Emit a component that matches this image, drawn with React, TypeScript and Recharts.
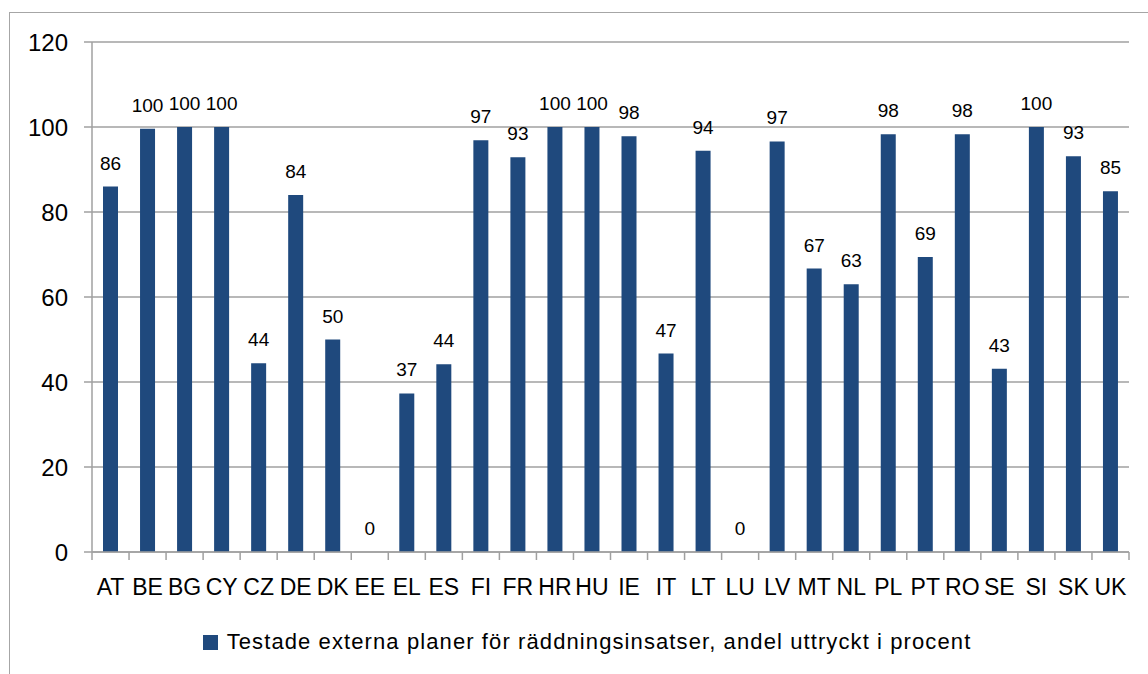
import React from 'react';
import { ComposedChart, Bar, Line, XAxis, YAxis, CartesianGrid, LabelList, Legend } from 'recharts';

const categories = ['AT','BE','BG','CY','CZ','DE','DK','EE','EL','ES','FI','FR','HR','HU','IE','IT','LT','LU','LV','MT','NL','PL','PT','RO','SE','SI','SK','UK'];
const values = [86, 99.6, 100, 100, 44.4, 84, 50, 0, 37.3, 44.2, 96.9, 92.9, 100, 100, 97.8, 46.7, 94.4, 0, 96.6, 66.7, 63, 98.3, 69.4, 98.3, 43.1, 100, 93.1, 84.9];
const yTicks = [0, 20, 40, 60, 80, 100, 120];
const seriesName = 'Testade externa planer för räddningsinsatser, andel uttryckt i procent';

const data = categories.map((c, i) => ({ name: c, value: values[i] }));

const FONT = '"Liberation Sans", Arial, sans-serif';
const GRAY = '#a0a0a0';
const BLUE = '#1F497D';

const XTick = (props: any) => {
  const { x, y, payload, index, visibleTicksCount } = props;
  const half = payload && typeof payload.offset === 'number' && payload.offset > 0 ? payload.offset : 18.5;
  const isLast = index === (visibleTicksCount ?? categories.length) - 1;
  return (
    <g>
      <line x1={x - half} x2={x - half} y1={y} y2={y + 8} stroke={GRAY} strokeWidth={1.5} />
      {isLast && <line x1={x + half} x2={x + half} y1={y} y2={y + 8} stroke={GRAY} strokeWidth={1.5} />}
      <text x={x} y={y + 43} textAnchor="middle" fontSize={23} fontFamily={FONT} fill="#000">
        {payload.value}
      </text>
    </g>
  );
};

const PointLabel = (props: any) => {
  const { x, y, value } = props;
  if (value === undefined || value === null) return null;
  return (
    <text x={Number(x)} y={Number(y) - 17} textAnchor="middle" fontSize={19} fontFamily={FONT} fill="#000">
      {String(Math.round(Number(value)))}
    </text>
  );
};

const LegendContent = () => (
  <div style={{ display: 'flex', alignItems: 'center', justifyContent: 'center', fontFamily: FONT, fontSize: 22, letterSpacing: 1.1, color: '#000' }}>
    <span style={{ display: 'inline-block', width: 15, height: 15, background: BLUE, marginRight: 9 }} />
    <span>{seriesName}</span>
  </div>
);

export default function App() {
  return (
    <div style={{ position: 'absolute', left: 0, top: 0, width: 1148, height: 674, overflow: 'hidden', background: '#fff' }}>
      <div style={{ position: 'absolute', left: 9, top: 12, width: 1160, height: 720, border: '1.5px solid #a6a6a6', boxSizing: 'border-box' }} />
      <div style={{ position: 'absolute', left: 0, top: 0 }}>
        <ComposedChart width={1148} height={674} data={data} margin={{ top: 42, right: 19, left: 0, bottom: 0 }} barCategoryGap={0}>
          <CartesianGrid vertical={false} stroke={GRAY} strokeWidth={1.5} />
          <XAxis
            dataKey="name"
            height={122}
            tickSize={0}
            tickMargin={0}
            tick={<XTick />}
            axisLine={{ stroke: GRAY, strokeWidth: 1.5 }}
            tickLine={false}
            interval={0}
          />
          <YAxis
            width={92}
            domain={[0, 120]}
            ticks={yTicks}
            interval={0}
            tickSize={8}
            tickMargin={16}
            axisLine={{ stroke: GRAY, strokeWidth: 1.5 }}
            tickLine={{ stroke: GRAY, strokeWidth: 1.5 }}
            tick={{ fontSize: 24, fontFamily: FONT, fill: '#000' }}
          />
          <Legend
            layout="horizontal"
            verticalAlign="middle"
            align="center"
            content={<LegendContent />}
            wrapperStyle={{ top: 629, left: 26, width: 1122, height: 30 }}
          />
          <Bar dataKey="value" name={seriesName} fill={BLUE} barSize={15} isAnimationActive={false} />
          <Line
            dataKey="value"
            stroke="none"
            dot={false}
            activeDot={false}
            legendType="none"
            isAnimationActive={false}
          >
            <LabelList dataKey="value" content={<PointLabel />} />
          </Line>
        </ComposedChart>
      </div>
    </div>
  );
}
